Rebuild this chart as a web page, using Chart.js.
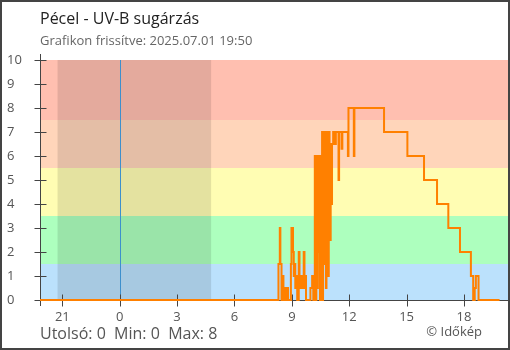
<!DOCTYPE html>
<html>
<head>
<meta charset="utf-8">
<script src="https://cdn.jsdelivr.net/npm/chart.js@4"></script>
<style>
  body { margin: 0; background: #fff; }
  #wrap { position: relative; width: 510px; height: 350px; font-family: "Open Sans", sans-serif; }
  #wrap canvas { position: absolute; left: 0; top: 0; }
  .frame { position: absolute; left: 0; top: 0; width: 510px; height: 350px; box-sizing: border-box; border: 2px solid #444; pointer-events: none; }
  .txt { position: absolute; white-space: pre; line-height: 1; }
  #title { left: 40px; top: 10px; font-size: 16px; color: #222; }
  #sub { left: 40px; top: 34px; font-size: 13px; color: #666; }
  #stats { left: 40px; top: 325px; font-size: 16px; color: #555; }
  #copy { right: 28px; top: 325px; font-size: 13px; color: #555; }
</style>
</head>
<body>
<div id="wrap">
  <canvas id="uvChart" width="510" height="350"></canvas>
  <div class="txt" id="title">Pécel - UV-B sugárzás</div>
  <div class="txt" id="sub">Grafikon frissítve: 2025.07.01 19:50</div>
  <div class="txt" id="stats">Utolsó: 0  Min: 0  Max: 8</div>
  <div class="txt" id="copy">© Időkép</div>
  <div class="frame"></div>
</div>
<script>
// hours relative to midnight of 2025.07.01 (negative = previous evening)
const times = [
  -4.1667, 8.30, 8.37, 8.40, 8.46, 8.52, 8.56, 8.60, 8.66, 8.70, 8.75, 8.80,
  8.95, 8.98, 9.06, 9.10, 9.14, 9.18, 9.22, 9.28, 9.36, 9.40, 9.46, 9.50,
  9.56, 9.62, 9.66, 9.70, 9.74, 9.97, 10.06, 10.12,
  10.20, 10.25, 10.28, 10.33, 10.36, 10.40, 10.43, 10.47, 10.52,
  10.58, 10.61, 10.63, 10.66, 10.69, 10.72, 10.75, 10.78, 10.81, 10.84, 10.87, 10.90, 10.93,
  10.97, 11.00, 11.03, 11.07, 11.10, 11.16, 11.24, 11.30, 11.44, 11.47, 11.60, 11.64,
  11.93, 11.96, 12.24, 12.27, 13.82, 15.04, 15.91, 16.59, 17.18, 17.79,
  18.36, 18.48, 18.56, 18.62, 18.76, 19.86
];
const uvValues = [
  0, 1.5, 3, 1.5, 0, 1, 0.5, 0, 0.5, 0, 0.5, 0,
  1.5, 3, 2, 1, 1.5, 0.5, 1, 0, 2, 0.5, 1, 0.5,
  1, 2, 0.5, 1, 0, 0.5, 1, 0,
  6, 0, 6, 0.5, 6, 2, 6, 0, 6,
  7, 0, 7, 1.5, 7, 2, 7, 0.5, 7, 3, 7, 1, 7,
  6.5, 2.5, 6.5, 4, 6.5, 7, 6.5, 7, 5, 7, 6.3, 7,
  6, 8, 6, 8, 7, 6, 5, 4, 3, 2,
  1, 0, 0.5, 1, 0, 0
];
const tickHours = [-3, 0, 3, 6, 9, 12, 15, 18];
const tickLabels = ["21", "0", "3", "6", "9", "12", "15", "18"];
const yTicks = [0, 1, 2, 3, 4, 5, 6, 7, 8, 9, 10];
const bandLimits = [0, 1.5, 3.5, 5.5, 7.5, 10];
const bandColors = ["#bbe1fc", "#adffbe", "#fffdb3", "#ffd5ba", "#ffbfb0"];
const nightFrom = -3.25;   // sunset 20:45
const nightTo = 4.78;      // sunrise 04:47

const backdrop = {
  id: "backdrop",
  beforeDatasetsDraw(chart) {
    const { ctx, chartArea: a, scales: { x, y } } = chart;
    ctx.save();
    for (let i = 0; i < bandColors.length; i++) {
      const top = y.getPixelForValue(bandLimits[i + 1]);
      const bot = y.getPixelForValue(bandLimits[i]);
      ctx.fillStyle = bandColors[i];
      ctx.fillRect(a.left, top, a.right - a.left, bot - top);
    }
    const n0 = x.getPixelForValue(nightFrom), n1 = x.getPixelForValue(nightTo);
    ctx.fillStyle = "rgba(0,0,0,0.105)";
    ctx.fillRect(n0, a.top, n1 - n0, a.bottom - a.top);
    const mid = Math.round(x.getPixelForValue(0)) + 0.5;
    ctx.strokeStyle = "#3d8fcc";
    ctx.lineWidth = 1;
    ctx.beginPath();
    ctx.moveTo(mid, a.top);
    ctx.lineTo(mid, a.bottom);
    ctx.stroke();

    // axes with ticks crossing the axis line
    ctx.strokeStyle = "#444";
    ctx.beginPath();
    const lx = Math.round(a.left) + 0.5, by = Math.round(a.bottom) + 0.5;
    ctx.moveTo(lx, a.top - 6);
    ctx.lineTo(lx, a.bottom + 6);
    ctx.moveTo(a.left, by);
    ctx.lineTo(a.right, by);
    for (const v of yTicks) {
      const py = Math.round(y.getPixelForValue(v)) + 0.5;
      ctx.moveTo(lx - 6, py);
      ctx.lineTo(lx + 6, py);
    }
    for (const v of tickHours) {
      const px = Math.round(x.getPixelForValue(v)) + 0.5;
      ctx.moveTo(px, by - 6);
      ctx.lineTo(px, by + 6);
    }
    ctx.stroke();
    ctx.restore();
  }
};

new Chart(document.getElementById("uvChart"), {
  type: "line",
  data: {
    datasets: [{
      data: times.map((t, i) => ({ x: t, y: uvValues[i] })),
      borderColor: "#ff8000",
      borderWidth: 2,
      pointRadius: 0,
      stepped: true,
      fill: false,
      clip: 3
    }]
  },
  options: {
    responsive: false,
    animation: false,
    layout: { padding: { left: 7, right: 2, top: 60, bottom: 26 } },
    plugins: { legend: { display: false }, tooltip: { enabled: false } },
    scales: {
      x: {
        type: "linear",
        min: -4.1667,
        max: 20.3,
        afterBuildTicks: (s) => { s.ticks = tickHours.map(v => ({ value: v })); },
        afterFit: (s) => { s.height = 24; },
        grid: { display: false, drawTicks: true, tickLength: 6 },
        border: { display: false },
        ticks: {
          padding: 3,
          maxRotation: 0,
          autoSkip: false,
          color: "#555",
          font: { family: "Open Sans", size: 13 },
          callback: (v) => tickLabels[tickHours.indexOf(v)]
        }
      },
      y: {
        min: 0,
        max: 10,
        afterFit: (s) => { s.width = 33; },
        grid: { display: false, drawTicks: true, tickLength: 6 },
        border: { display: false },
        ticks: {
          stepSize: 1,
          crossAlign: "far",
          color: "#555",
          font: { family: "Open Sans", size: 13 }
        }
      }
    }
  },
  plugins: [backdrop]
});
</script>
</body>
</html>
